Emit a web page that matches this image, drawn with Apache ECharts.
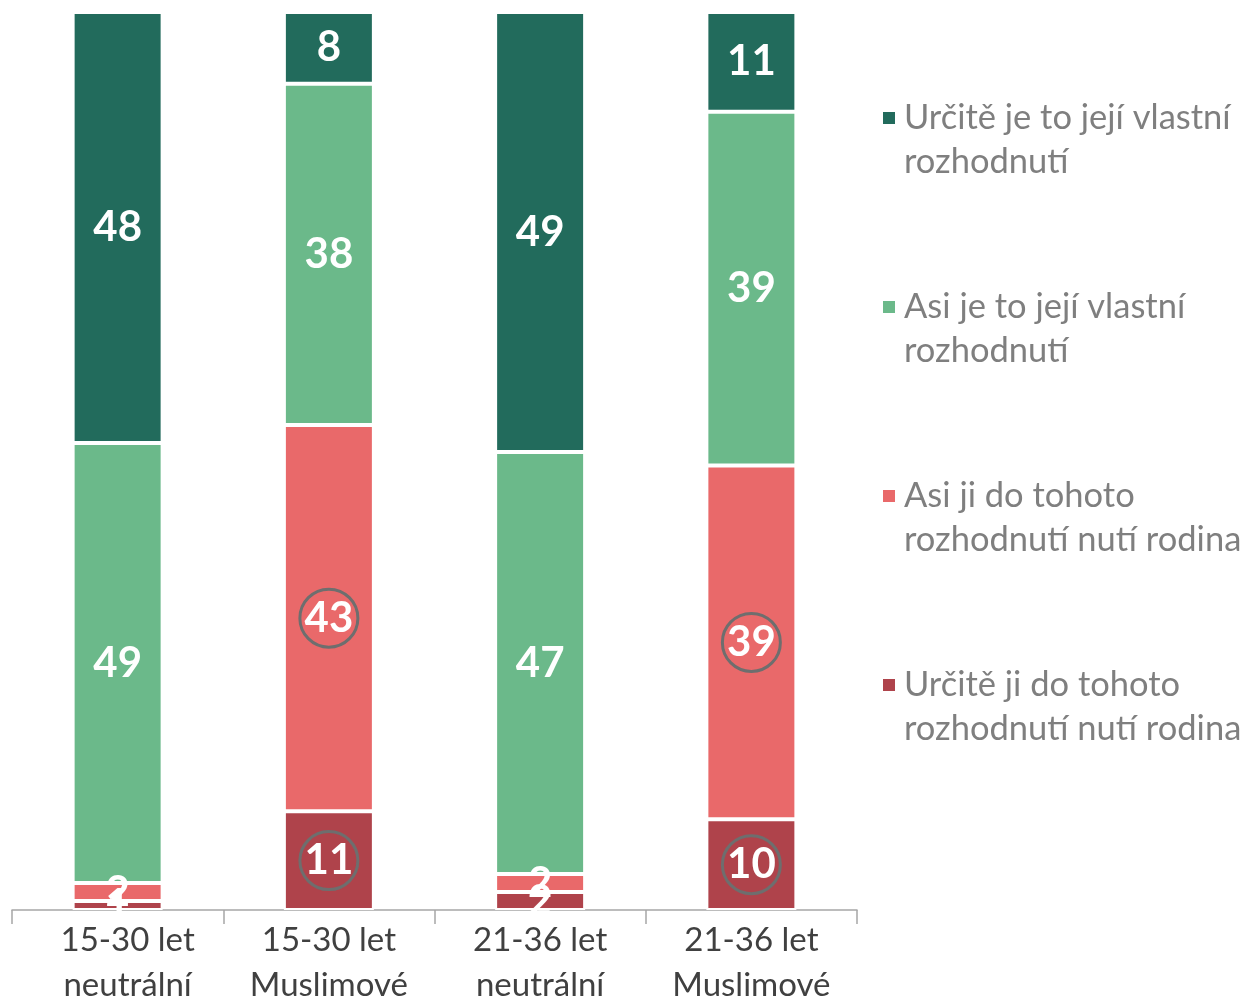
<!DOCTYPE html>
<html>
<head>
<meta charset="utf-8">
<script src="https://cdn.jsdelivr.net/npm/echarts@6/dist/echarts.min.js"></script>
<style>
  html, body { margin: 0; padding: 0; background: #fff; }
  #chart { width: 1248px; height: 1001px; }
</style>
</head>
<body>
<div id="chart"></div>
<script>
// skupiny respondentů
var categories = ['15-30 let\nneutrální', '15-30 let\nMuslimové', '21-36 let\nneutrální', '21-36 let\nMuslimové'];
// odpovědi v %
var urciteVlastni = [48, 8, 49, 11];
var asiVlastni = [49, 38, 47, 39];
var asiRodina = [2, 43, 2, 39];
var urciteRodina = [1, 11, 2, 10];
var seriesNames = [
    'Určitě je to její vlastní rozhodnutí',
    'Asi je to její vlastní rozhodnutí',
    'Asi ji do tohoto rozhodnutí nutí rodina',
    'Určitě ji do tohoto rozhodnutí nutí rodina'
];
var legendLines = {
    'Určitě je to její vlastní rozhodnutí': 'Určitě je to její vlastní\nrozhodnutí',
    'Asi je to její vlastní rozhodnutí': 'Asi je to její vlastní\nrozhodnutí',
    'Asi ji do tohoto rozhodnutí nutí rodina': 'Asi ji do tohoto\nrozhodnutí nutí rodina',
    'Určitě ji do tohoto rozhodnutí nutí rodina': 'Určitě ji do tohoto\nrozhodnutí nutí rodina'
};
// zakroužkované hodnoty (rodina u muslimských skupin)
var circledBars = [1, 3];

var colors = ['#226B5C', '#6BB98A', '#E9696A', '#AF434B'];
var font = 'Lato';

// Excel graf je 100% skládaný -> přepočet na podíl
function totals() {
    var t = [];
    for (var i = 0; i < categories.length; i++) {
        t.push(urciteVlastni[i] + asiVlastni[i] + asiRodina[i] + urciteRodina[i]);
    }
    return t;
}
var tot = totals();

function makeSeries(name, values, color, circled) {
    return {
        name: name,
        type: 'bar',
        stack: 'a',
        barWidth: 90,
        itemStyle: { color: color, borderColor: '#fff', borderWidth: 2 },
        label: {
            show: true,
            position: 'inside',
            color: '#fff',
            fontFamily: font,
            fontWeight: 'bold',
            fontSize: 42,
            formatter: function (p) { return values[p.dataIndex]; }
        },
        data: values.map(function (v, i) {
            var d = { value: v / tot[i] * 100 };
            if (circled && circledBars.indexOf(i) >= 0) {
                d.label = {
                    width: 58, height: 58, lineHeight: 60,
                    borderRadius: 32, borderWidth: 3, borderColor: '#6E6E6E',
                    align: 'center', padding: [0, 0, 0, 0]
                };
            }
            return d;
        })
    };
}

var chart = echarts.init(document.getElementById('chart'));
chart.setOption({
    animation: false,
    grid: { left: 12, right: 391, top: 12, bottom: 91, outerBoundsMode: 'none' },
    legend: {
        orient: 'vertical',
        left: 876,
        top: 91,
        itemGap: 101,
        itemWidth: 14,
        itemHeight: 58,
        icon: 'path://M0,0H10V10H0Z M0,41.4L0.01,41.4L0,41.41Z',
        data: seriesNames,
        formatter: function (n) { return legendLines[n]; },
        textStyle: { color: '#7F7F7F', fontFamily: font, fontSize: 34.5, lineHeight: 44, padding: [0, 0, 0, 3] }
    },
    xAxis: {
        type: 'category',
        data: categories,
        axisLine: { lineStyle: { color: '#A6A6A6', width: 1.5 } },
        axisTick: { show: true, interval: 0, length: 14, lineStyle: { color: '#A6A6A6', width: 1.5 } },
        axisLabel: {
            interval: 0, hideOverlap: false,
            color: '#404040', fontFamily: font, fontSize: 33, lineHeight: 45, margin: 8,
            formatter: function (v, i) {
                // první popisek je v originále posunutý doprava
                if (i === 0) {
                    return v.split('\n').map(function (s) { return '{p|' + s + '}'; }).join('\n');
                }
                return v;
            },
            rich: {
                p: { color: '#404040', fontFamily: font, fontSize: 33, lineHeight: 45, padding: [0, 0, 0, 20] }
            }
        }
    },
    yAxis: { type: 'value', min: 0, max: 100, show: false },
    series: [
        makeSeries(seriesNames[3], urciteRodina, colors[3], true),
        makeSeries(seriesNames[2], asiRodina, colors[2], true),
        makeSeries(seriesNames[1], asiVlastni, colors[1], false),
        makeSeries(seriesNames[0], urciteVlastni, colors[0], false)
    ]
});
</script>
</body>
</html>
